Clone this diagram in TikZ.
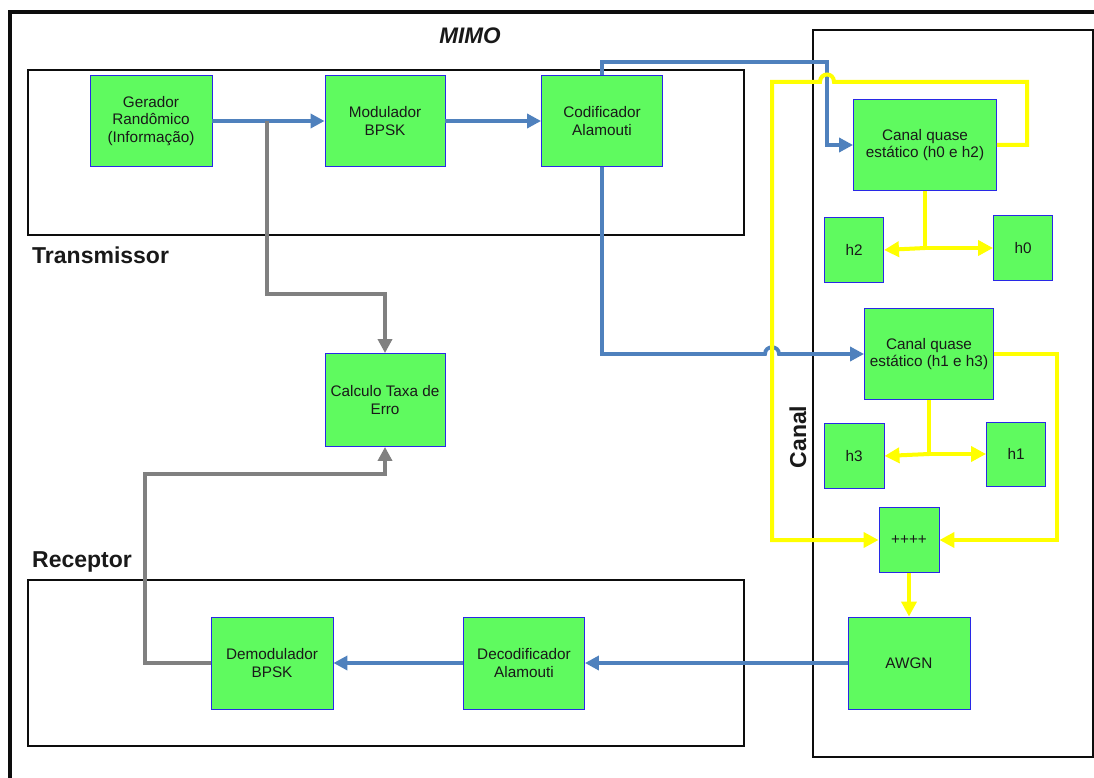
\documentclass[tikz,border=0pt]{standalone}
\usepackage{fontspec}
\setmainfont{Liberation Sans}
\usetikzlibrary{arrows.meta}
\definecolor{boxgreen}{RGB}{95,250,95}
\definecolor{boxedge}{RGB}{40,40,230}
\definecolor{flowblue}{RGB}{79,129,189}
\definecolor{flowgray}{RGB}{128,128,128}
\definecolor{flowyellow}{RGB}{255,255,0}
\begin{document}
\begin{tikzpicture}[x=1pt,y=-1pt,
  blk/.style={draw=boxedge,line width=0.9pt,fill=boxgreen,inner sep=0pt,align=center,
    font=\fontsize{15.3}{17.6}\selectfont,text=black!90},
  frame/.style={draw=black!95,line width=2.2pt},
  lbl/.style={font=\fontsize{23}{26}\selectfont\bfseries,text=black!90,inner sep=0pt},
  bl/.style={draw=flowblue,line width=3.8pt},
  gr/.style={draw=flowgray,line width=3.8pt},
  yl/.style={draw=flowyellow,line width=4pt},
  btip/.style={-{Triangle[length=14pt,width=14pt]}},
  ytip/.style={-{Triangle[length=15pt,width=15pt]}}
]
\useasboundingbox (0,0) rectangle (1094,778);
\fill[white] (0,0) rectangle (1094,778);
% frames
\draw[draw=black!95,line width=4pt] (10,12) rectangle (1110,800);
\draw[frame] (28,70) rectangle (744,235);
\draw[frame] (28,580) rectangle (744,746);
\draw[frame] (813,30) rectangle (1093,757);
% labels
\node[lbl,font=\fontsize{22.5}{26}\selectfont\bfseries\itshape] (mimo) at (470,36) {MIMO};
\node[lbl,anchor=west] (tx) at (32,255) {Transmissor};
\node[lbl,anchor=west] (rx) at (32,562) {Receptor};
\node[lbl,rotate=90] (canal) at (798,437) {Canal};
% blocks
\node[blk,minimum width=122pt,minimum height=91pt] (ger) at (151,121) {Gerador\\Randômico\\(Informação)};
\node[blk,minimum width=120pt,minimum height=91pt] (mod) at (385,121) {Modulador\\BPSK};
\node[blk,minimum width=121pt,minimum height=91pt] (cod) at (602,121) {Codificador\\Alamouti};
\node[blk,minimum width=143pt,minimum height=91pt] (c02) at (925,145) {Canal quase\\estático (h0 e h2)};
\node[blk,minimum width=59pt,minimum height=65pt] (h2) at (854,250) {h2};
\node[blk,minimum width=59pt,minimum height=65pt] (h0) at (1023,248) {h0};
\node[blk,minimum width=129pt,minimum height=91pt] (c13) at (929,354) {Canal quase\\estático (h1 e h3)};
\node[blk,minimum width=60pt,minimum height=65pt] (h3) at (854,456) {h3};
\node[blk,minimum width=59pt,minimum height=64pt] (h1) at (1016,454) {h1};
\node[blk,minimum width=60pt,minimum height=65pt] (plus) at (909,540) {++++};
\node[blk,minimum width=122pt,minimum height=92pt] (awgn) at (909,663) {AWGN};
\node[blk,minimum width=120pt,minimum height=93pt] (calc) at (385,400) {Calculo Taxa de\\Erro};
\node[blk,minimum width=122pt,minimum height=92pt] (dem) at (272,663) {Demodulador\\BPSK};
\node[blk,minimum width=121pt,minimum height=92pt] (dec) at (524,663) {Decodificador\\Alamouti};
% helper coordinates
\coordinate (tap) at (267,121);
\coordinate (j02) at (925,248);
\coordinate (j13) at (929,454);
% blue flow
\draw[bl,btip] (ger.east) -- (mod.west);
\draw[bl,btip] (mod.east) -- (cod.west);
\draw[bl,btip] (cod.north) |- (827,62) |- (c02.west);
\draw[bl,btip] (cod.south) |- (765,354) .. controls (765,345) and (779,345) .. (779,354) -- (c13.west);
\draw[bl,btip] (awgn.west) -- (dec.east);
\draw[bl,btip] (dec.west) -- (dem.east);
% gray flow
\draw[gr,btip] (tap) -- (267,294) -| (calc.north);
\draw[gr,btip] (dem.west) -| (145,474) -| (calc.south);
% yellow flow
\draw[yl,ytip] (c02.east) -| (1027,82) -- (834,82) .. controls (834,72) and (820,72) .. (820,82) -| (772,540) -- (plus.west);
\draw[yl,ytip] (c13.east) -| (1057,540) -- (plus.east);
\draw[yl] (c02.south) -- (j02);
\draw[yl,ytip] (j02) -- (h2.east);
\draw[yl,ytip] (j02) -- (h0.west);
\draw[yl] (c13.south) -- (j13);
\draw[yl,ytip] (j13) -- (h3.east);
\draw[yl,ytip] (j13) -- (h1.west);
\draw[yl,ytip] (plus.south) -- (awgn.north);
\end{tikzpicture}
\end{document}
